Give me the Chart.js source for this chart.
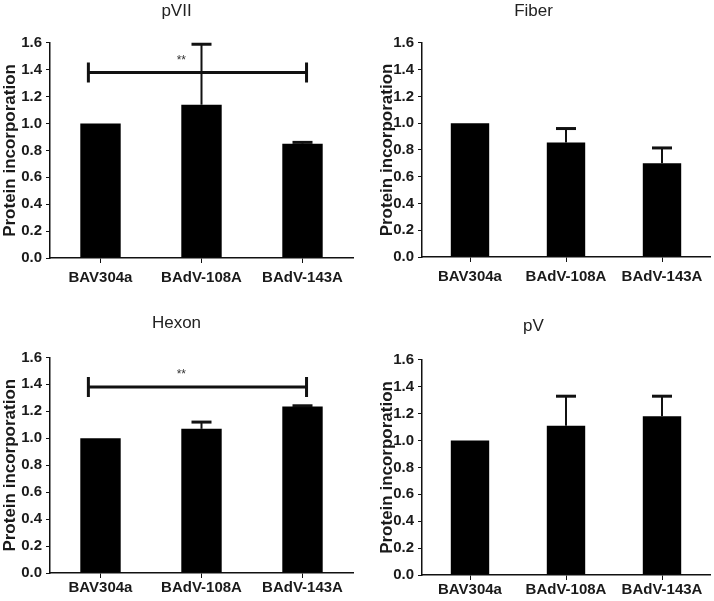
<!DOCTYPE html>
<html>
<head>
<meta charset="utf-8">
<script src="https://cdn.jsdelivr.net/npm/chart.js@4.4.1/dist/chart.umd.min.js"></script>
<style>
  body { margin: 0; background: #fff; }
  #wrap { position: relative; width: 714px; height: 601px; }
  canvas { position: absolute; }
</style>
</head>
<body>
<div id="wrap">
  <canvas id="pvii" width="357" height="300" style="left:0;top:0"></canvas>
  <canvas id="fiber" width="357" height="300" style="left:357px;top:0"></canvas>
  <canvas id="hexon" width="357" height="301" style="left:0;top:300px"></canvas>
  <canvas id="pv" width="357" height="301" style="left:357px;top:300px"></canvas>
</div>
<script>
const categories = ['BAV304a', 'BAdV-108A', 'BAdV-143A'];
const yTicks = [0, 0.2, 0.4, 0.6, 0.8, 1.0, 1.2, 1.4, 1.6];

const pVIIValues = [1.0, 1.14, 0.85];
const pVIIErrors = [0, 0.45, 0.01];
const fiberValues = [1.0, 0.855, 0.70];
const fiberErrors = [0, 0.105, 0.115];
const hexonValues = [1.0, 1.07, 1.235];
const hexonErrors = [0, 0.05, 0.006];
const pVValues = [1.0, 1.11, 1.18];
const pVErrors = [0, 0.22, 0.15];

// significance brackets (BAV304a vs BAdV-143A)
const pVIISig = { from: 0, to: 2, y: 1.38, label: '**' };
const hexonSig = { from: 0, to: 2, y: 1.38, label: '**' };

const ink = '#111';
const family = '"Liberation Sans", Arial, sans-serif';

function makeChart(id, title, values, errors, sig, lay) {
  const errorBars = {
    id: 'errorBars',
    afterDatasetsDraw(chart) {
      const ctx = chart.ctx;
      const y = chart.scales.y;
      const meta = chart.getDatasetMeta(0);
      ctx.save();
      ctx.strokeStyle = ink;
      meta.data.forEach((bar, i) => {
        if (!errors[i]) return;
        const y0 = y.getPixelForValue(values[i]);
        const y1 = y.getPixelForValue(values[i] + errors[i]);
        ctx.lineWidth = 2;
        ctx.beginPath();
        ctx.moveTo(bar.x, y0);
        ctx.lineTo(bar.x, y1);
        ctx.stroke();
        ctx.lineWidth = 3;
        ctx.beginPath();
        ctx.moveTo(bar.x - 10, y1);
        ctx.lineTo(bar.x + 10, y1);
        ctx.stroke();
      });

      if (sig) {
        const x = chart.scales.x;
        const catW = x.width / categories.length;
        const x1 = x.getPixelForValue(sig.from) - 0.12 * catW;
        const x2 = x.getPixelForValue(sig.to) + 0.04 * catW;
        const yy = y.getPixelForValue(sig.y);
        ctx.lineWidth = 3;
        ctx.beginPath();
        ctx.moveTo(x1, yy);
        ctx.lineTo(x2, yy);
        ctx.moveTo(x1, yy - 10);
        ctx.lineTo(x1, yy + 10);
        ctx.moveTo(x2, yy - 10);
        ctx.lineTo(x2, yy + 10);
        ctx.stroke();
        ctx.fillStyle = '#333';
        ctx.font = '12px ' + family;
        ctx.textAlign = 'center';
        ctx.textBaseline = 'middle';
        ctx.fillText(sig.label, x.getPixelForValue(1) - 0.2 * catW, yy - 12);
      }
      ctx.restore();
    }
  };

  new Chart(document.getElementById(id), {
    type: 'bar',
    data: {
      labels: categories,
      datasets: [{
        data: values,
        backgroundColor: '#000',
        borderWidth: 0,
        barPercentage: 0.4,
        categoryPercentage: 1.0
      }]
    },
    options: {
      responsive: false,
      animation: false,
      layout: { padding: { left: 0, right: 4, top: 0, bottom: 0 } },
      plugins: {
        legend: { display: false },
        tooltip: { enabled: false },
        title: {
          display: true,
          text: title,
          color: '#222',
          font: { family: family, size: 17, weight: 'normal', lineHeight: 1.2 },
          padding: { top: lay.titleTop, bottom: lay.titleBottom }
        }
      },
      scales: {
        x: {
          offset: true,
          border: { display: true, color: ink, width: 1.5 },
          grid: { display: true, drawOnChartArea: false, drawTicks: true, tickLength: 5, offset: false, color: ink, lineWidth: 1 },
          ticks: {
            color: '#1a1a1a',
            padding: lay.xPad,
            maxRotation: 0,
            font: { family: family, size: 15, weight: 'bold' }
          },
          afterFit(scale) { scale.height = lay.xHeight; }
        },
        y: {
          min: 0,
          max: 1.6,
          afterBuildTicks(scale) { scale.ticks = yTicks.map(v => ({ value: v })); },
          border: { display: true, color: ink, width: 1.5 },
          grid: { display: true, drawOnChartArea: false, drawTicks: true, tickLength: 4, color: ink, lineWidth: 1 },
          ticks: {
            color: '#1a1a1a',
            padding: 4,
            callback: v => v.toFixed(1),
            font: { family: family, size: 15, weight: 'bold' }
          },
          title: {
            display: true,
            text: 'Protein incorporation',
            color: '#1a1a1a',
            padding: { top: lay.yTitleTop, bottom: 0 },
            font: { family: family, size: 17, weight: 'bold' }
          },
          afterFit(scale) { scale.width = lay.yWidth; }
        }
      }
    },
    plugins: [errorBars]
  });
}

makeChart('pvii', 'pVII', pVIIValues, pVIIErrors, pVIISig,
  { titleTop: 1, titleBottom: 21.5, xHeight: 42, xPad: 6, yWidth: 50, yTitleTop: 0 });
makeChart('fiber', 'Fiber', fiberValues, fiberErrors, null,
  { titleTop: 1, titleBottom: 21.5, xHeight: 43, xPad: 6, yWidth: 65, yTitleTop: 20 });
makeChart('hexon', 'Hexon', hexonValues, hexonErrors, hexonSig,
  { titleTop: 13, titleBottom: 24, xHeight: 28, xPad: 1, yWidth: 50, yTitleTop: 0 });
makeChart('pv', 'pV', pVValues, pVErrors, null,
  { titleTop: 16, titleBottom: 23.5, xHeight: 26, xPad: 1, yWidth: 65, yTitleTop: 20 });
</script>
</body>
</html>
